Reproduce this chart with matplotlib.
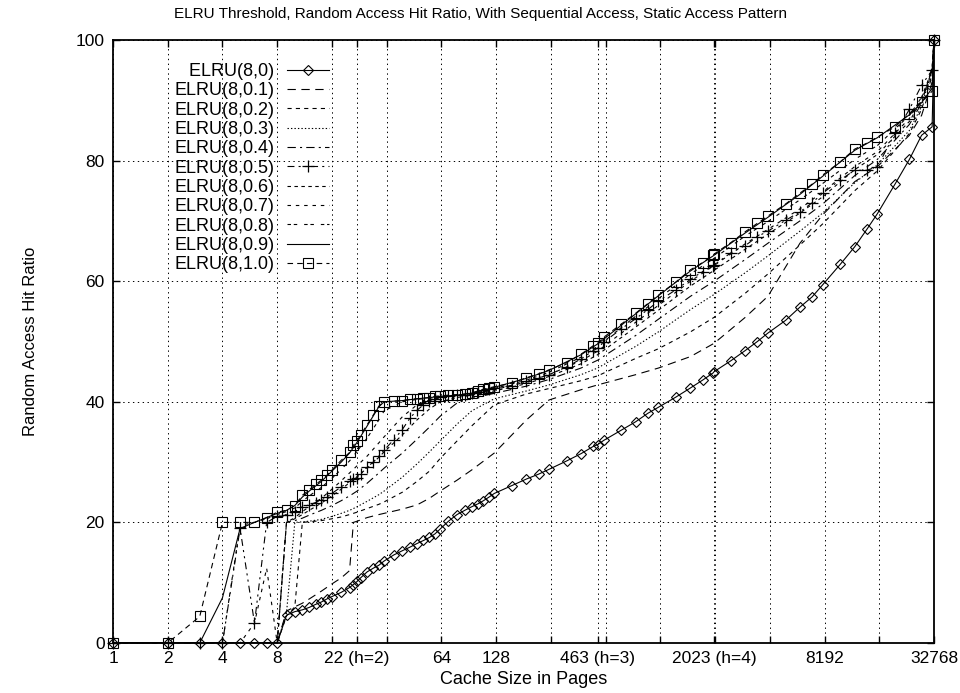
import matplotlib
matplotlib.use('Agg')
import matplotlib.pyplot as plt
from matplotlib.ticker import FixedLocator, FixedFormatter, NullLocator

plt.rcParams['font.family'] = ['Liberation Sans', 'DejaVu Sans']
plt.rcParams['lines.scale_dashes'] = False

# cache sizes (pages) for the marked series
x_fine = [1, 2, 3, 4, 5, 6, 7, 8, 9, 10, 11, 12, 13, 14, 15, 16, 18, 20, 21, 22, 23, 25, 27, 29, 31,
          35, 39, 43, 47, 51, 55, 59, 63, 70, 78, 86, 94, 102, 109, 117, 125, 156, 188, 219, 250,
          313, 375, 438, 463, 500, 625, 750, 875, 1000, 1250, 1500, 1750, 2000, 2023, 2500, 3000,
          3500, 4000, 5000, 6000, 7000, 8000, 10000, 12000, 14000, 16000, 20000, 24000, 28000,
          32000, 32768]
# cache sizes for the unmarked series
x_coarse = [1, 2, 3, 4, 5, 6, 7, 8, 9, 10, 11, 12, 14, 16, 18, 20, 21, 22, 25, 29, 31, 39, 47, 55, 63,
            78, 94, 125, 188, 250, 375, 463, 750, 1000, 1500, 2023, 3000, 4000, 6000, 8000, 12000,
            16000, 24000, 28000, 32000, 32768]

elru_0 = [0, 0, 0, 0, 0, 0, 0, 0, 4.6, 5.2, 5.5, 5.9, 6.4, 6.8, 7.3, 7.7,
          8.4, 9.2, 9.7, 10.2, 10.8, 11.8, 12.4, 12.9, 13.6,
          14.6, 15.3, 15.9, 16.5, 17.0, 17.5, 18.1, 18.9,
          20.2, 21.3, 22.0, 22.6, 23.1, 23.6, 24.2, 24.8,
          26.1, 27.2, 28.0, 28.8, 30.2, 31.4, 32.6, 32.9, 33.6,
          35.3, 36.7, 38.1, 39.1, 40.8, 42.3, 43.6, 44.8, 45.0,
          46.8, 48.5, 50.0, 51.4, 53.5, 55.7, 57.4, 59.4,
          62.8, 65.7, 68.6, 71.2, 76.1, 80.2, 84.2, 85.6, 100]
elru_05 = [0, 0, 0, 0, 19.0, 3.3, 20.0, 21.0, 21.3, 21.8, 22.6, 22.9, 23.3, 23.7, 24.2, 24.8,
           25.9, 26.8, 27.2, 27.4, 28.0, 29.2, 30.0, 31.0, 32.0,
           33.7, 35.4, 37.3, 38.6, 39.5, 40.2, 40.5, 40.8,
           41.0, 41.1, 41.2, 41.4, 41.6, 41.9, 42.1, 42.3,
           42.7, 43.4, 44.0, 44.5, 45.8, 47.1, 48.5, 48.9, 49.9,
           52.1, 53.8, 55.3, 56.7, 58.6, 60.3, 61.6, 62.5, 62.7,
           64.7, 65.9, 67.4, 68.3, 70.1, 71.5, 73.0, 74.6,
           76.8, 78.4, 78.4, 79.0, 84.5, 88.5, 92.5, 95.0, 100]
elru_10 = [0, 0, 4.4, 20, 20, 20, 20.8, 21.7, 22.0, 22.8, 24.5, 25.4, 26.3, 27.0, 27.8, 28.7,
           30.3, 31.6, 32.8, 33.5, 34.5, 36.2, 37.8, 39.3, 40.0,
           40.1, 40.2, 40.4, 40.5, 40.6, 40.7, 40.9, 41.0,
           41.1, 41.2, 41.3, 41.5, 41.8, 42.1, 42.3, 42.5,
           43.1, 44.0, 44.6, 45.3, 46.5, 47.9, 49.3, 49.7, 50.7,
           52.9, 54.7, 56.3, 57.7, 59.9, 61.9, 63.1, 64.3, 64.5,
           66.4, 68.2, 69.6, 70.8, 72.8, 74.6, 76.1, 77.6,
           79.8, 81.9, 82.9, 83.9, 85.6, 87.8, 89.8, 91.5, 100]

elru_01 = [0, 0, 0, 0, 0, 0, 0, 0, 5.3, 6.0, 6.6, 7.3, 8.6, 9.8, 10.8, 12.0, 20.0, 20.2,
           20.8, 21.3, 21.5, 22.2, 22.9, 24.0, 25.2, 27.0, 28.7, 31.5, 37.0, 40.3, 42.0, 42.8,
           44.5, 45.6, 47.5, 49.7, 54.0, 57.5, 66.3, 71.0, 76.5, 79.0, 84.2, 87.5, 93.0, 100]
elru_02 = [0, 0, 0, 0, 0, 0, 0, 0, 4.5, 6.0, 20.0, 20.1, 20.3, 20.6, 20.9, 21.3, 21.5, 21.7,
           22.3, 23.0, 23.4, 25.0, 26.8, 28.5, 30.6, 33.5, 36.0, 39.5, 41.3, 42.2, 43.5, 44.3,
           47.2, 48.8, 51.6, 54.0, 58.0, 61.2, 66.0, 69.5, 75.0, 78.3, 84.5, 88.5, 94.0, 100]
elru_03 = [0, 0, 0, 0, 0, 0, 0, 0, 5.0, 20.0, 20.1, 20.2, 20.5, 21.0, 21.5, 22.0, 22.3, 22.6,
           23.5, 24.6, 25.2, 27.5, 29.7, 31.7, 33.5, 36.3, 38.5, 40.5, 41.8, 42.8, 44.5, 45.6,
           49.2, 51.6, 55.3, 57.8, 61.4, 64.2, 68.3, 71.3, 76.3, 79.3, 85.0, 89.0, 95.0, 100]
elru_04 = [0, 0, 0, 0, 0, 0, 0, 0, 20.0, 20.3, 20.7, 21.2, 22.0, 22.8, 23.6, 24.4, 24.8, 25.2,
           26.5, 28.2, 29.0, 31.5, 33.8, 35.8, 37.6, 39.8, 40.6, 41.4, 42.6, 43.7, 45.6, 46.9,
           51.0, 53.7, 57.5, 60.0, 63.6, 66.3, 70.0, 72.8, 77.5, 80.2, 86.0, 89.5, 95.5, 100]
elru_06 = [0, 0, 0, 0, 0, 0, 0, 0, 20.0, 20.6, 21.3, 22.0, 23.2, 24.4, 25.5, 26.6, 27.1, 27.6,
           29.0, 30.8, 31.7, 34.5, 37.0, 38.8, 40.0, 40.7, 41.1, 41.8, 43.0, 44.2, 46.3, 47.8,
           52.4, 55.2, 59.2, 61.8, 65.3, 67.8, 71.3, 74.0, 78.5, 81.0, 86.5, 90.0, 95.0, 100]
elru_07 = [0, 0, 0, 0, 0, 3.3, 12.4, 0, 20.0, 20.8, 21.8, 22.6, 24.0, 25.5, 26.9, 28.2, 28.8, 29.4,
           31.0, 33.2, 34.2, 37.5, 39.5, 40.3, 40.6, 40.9, 41.2, 42.0, 43.3, 44.5, 46.8, 48.4,
           53.2, 56.0, 60.0, 62.6, 66.2, 68.6, 72.0, 74.8, 79.0, 81.5, 87.0, 90.5, 95.0, 100]
elru_08 = [0, 0, 0, 0, 19.5, 20.0, 20.6, 21.3, 21.8, 22.4, 23.5, 24.4, 25.8, 27.3, 28.8, 30.2, 31.0, 31.8,
           34.0, 37.0, 38.5, 40.0, 40.4, 40.6, 40.8, 41.0, 41.3, 42.2, 43.6, 44.9, 47.4, 49.2,
           54.2, 57.1, 61.2, 63.8, 67.5, 69.9, 73.5, 76.2, 80.2, 82.5, 87.5, 90.5, 94.0, 100]
elru_09 = [0, 0, 0, 7.5, 19.0, 20.0, 20.8, 21.5, 22.0, 22.8, 24.2, 25.2, 26.8, 28.5, 30.0, 31.5, 32.4, 33.3,
           36.0, 39.2, 40.0, 40.2, 40.5, 40.7, 40.9, 41.1, 41.4, 42.4, 43.9, 45.2, 47.8, 49.6,
           54.6, 57.6, 61.7, 64.3, 68.0, 70.6, 74.4, 77.4, 81.7, 83.8, 87.6, 89.6, 92.0, 100]

xtick_vals = [1, 2, 4, 8, 16, 22, 32, 64, 128, 256, 463, 512, 1024, 2023, 2048, 4096, 8192, 16384, 32768]
xtick_text = ['1', '2', '4', '8', '', '22 (h=2)', '', '64', '128', '', '463 (h=3)', '', '',
              '2023 (h=4)', '', '', '8192', '', '32768']

fig = plt.figure(figsize=(9.6, 6.93), dpi=100)
ax = fig.add_axes([113 / 960, 1 - 643 / 693, 821 / 960, 603 / 693])
ax.set_xscale('log', base=2)

# punctuation space + figure space pad the short label so the labels line up on the right
lw = 0.8
ax.plot(x_fine, elru_0, color='black', lw=lw, marker='D', ms=5, mfc='none', mew=0.8,
        label='\u2008\u2007ELRU(8,0)', clip_on=False, zorder=5)
ax.plot(x_coarse, elru_01, color='black', lw=lw, dashes=(6, 4), label='ELRU(8,0.1)')
ax.plot(x_coarse, elru_02, color='black', lw=lw, dashes=(3, 3), label='ELRU(8,0.2)')
ax.plot(x_coarse, elru_03, color='black', lw=lw, dashes=(1, 1.5), label='ELRU(8,0.3)')
ax.plot(x_coarse, elru_04, color='black', lw=lw, dashes=(6, 3, 1.5, 3), label='ELRU(8,0.4)')
ax.plot(x_fine, elru_05, color='black', lw=lw, dashes=(5, 3, 1.5, 3, 1.5, 3), marker='+', ms=8, mew=0.9,
        label='ELRU(8,0.5)', clip_on=False, zorder=5)
ax.plot(x_coarse, elru_06, color='black', lw=lw, dashes=(2.5, 2.5), label='ELRU(8,0.6)')
ax.plot(x_coarse, elru_07, color='black', lw=lw, dashes=(2.5, 3.5), label='ELRU(8,0.7)')
ax.plot(x_coarse, elru_08, color='black', lw=lw, dashes=(2.5, 2, 2.5, 5), label='ELRU(8,0.8)')
ax.plot(x_coarse, elru_09, color='black', lw=lw, label='ELRU(8,0.9)')
ax.plot(x_fine, elru_10, color='black', lw=lw, dashes=(4, 3), marker='s', ms=7.5, mfc='none', mew=0.8,
        label='ELRU(8,1.0)', clip_on=False, zorder=5)

ax.set_xlim(1, 32768)
ax.set_ylim(0, 100)
ax.xaxis.set_major_locator(FixedLocator(xtick_vals))
ax.xaxis.set_major_formatter(FixedFormatter(xtick_text))
ax.xaxis.set_minor_locator(NullLocator())
ax.set_yticks([0, 20, 40, 60, 80, 100])
ax.tick_params(direction='in', length=5, width=1, top=True, right=True, labelsize=12.5, pad=6)
ax.grid(True, color='black', lw=0.7, linestyle=(0, (1, 2.5)))
for s in ax.spines.values():
    s.set_linewidth(1.3)

fig.text(0.5, 1 - 14 / 693,
         'ELRU Threshold, Random Access Hit Ratio, With Sequential Access, Static Access Pattern',
         fontsize=11, ha='center', va='center')
ax.set_xlabel('Cache Size in Pages', fontsize=13, labelpad=3)
ax.set_ylabel('Random Access Hit Ratio', fontsize=12, labelpad=27)

ax.legend(loc='upper left', bbox_to_anchor=(0.0745, 0.962), frameon=False, markerfirst=False,
          fontsize=13, handlelength=2.3, handletextpad=0.72, labelspacing=0.13,
          borderpad=0, borderaxespad=0)

fig.savefig('out.png', dpi=100)
